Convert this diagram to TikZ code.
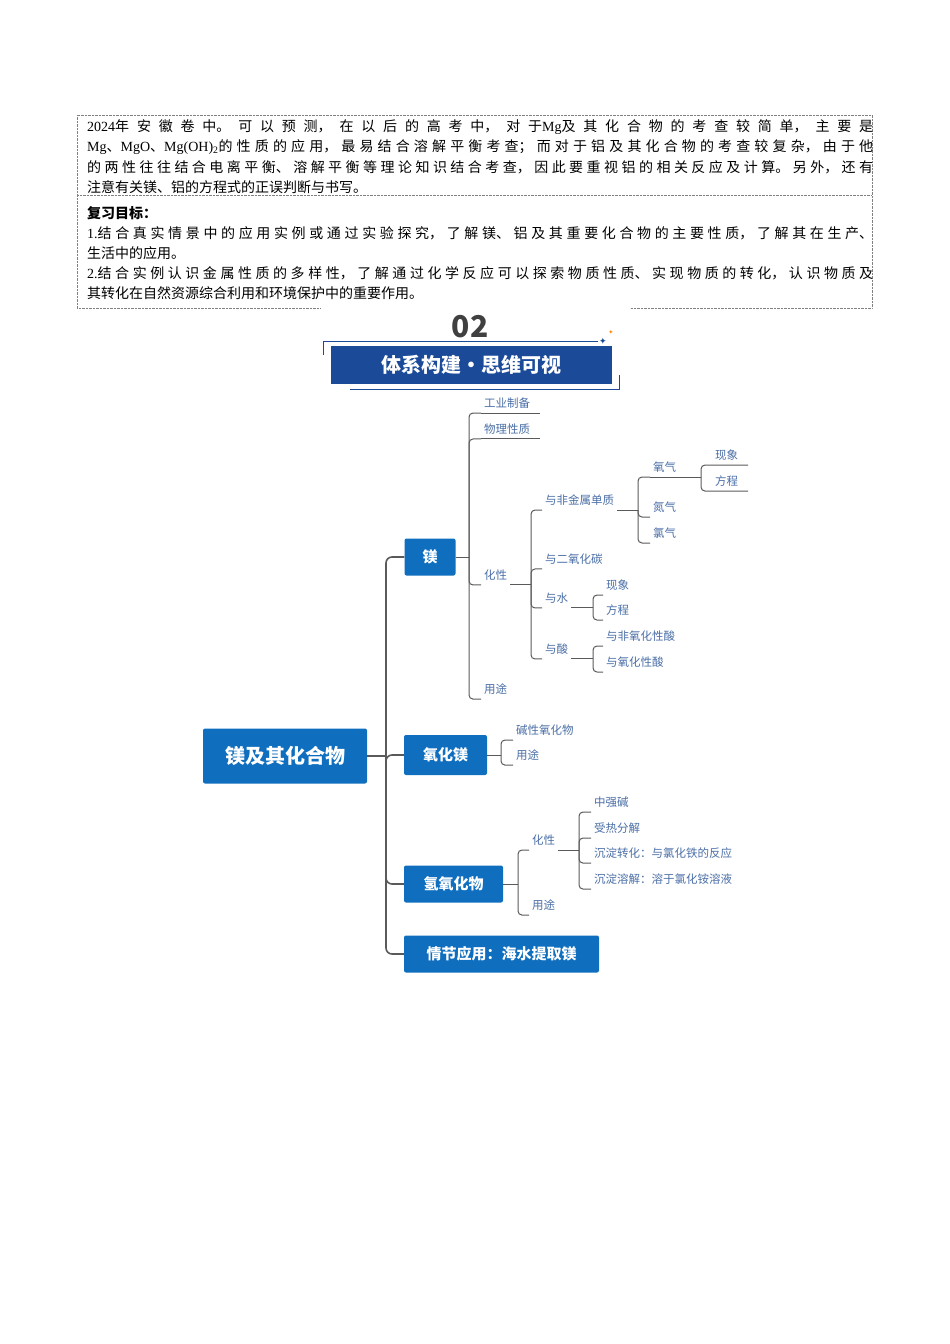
\documentclass[tikz,border=0pt]{standalone}
\usepackage{fontspec}
\setmainfont{Noto Sans CJK SC}
\newfontfamily\latserif{Liberation Serif}
\newfontfamily\symfont{DejaVu Sans}
\usetikzlibrary{positioning,calc}
\XeTeXlinebreaklocale "zh"
\XeTeXlinebreakskip=0pt plus 6pt
\definecolor{boxblue}{HTML}{0F6EBE}
\definecolor{bandblue}{HTML}{1B4A99}
\definecolor{leafblue}{HTML}{4A6EA6}
\definecolor{linegray}{HTML}{5A5A5A}
\tikzset{
  topic/.style={fill=boxblue,text=white,font=\fontsize{15}{18}\selectfont\bfseries,rounded corners=2pt,inner sep=0pt},
  leaf/.style={text=leafblue,font=\fontsize{11.5}{13}\selectfont,anchor=west,inner xsep=3pt,inner ysep=4.5pt},
  conn/.style={draw=linegray,line width=1pt,rounded corners=4pt},
  trunk/.style={draw=linegray,line width=1.6pt,rounded corners=6pt},
  intro/.style={anchor=west,inner sep=0pt,font=\fontsize{14}{16}\selectfont},
}
\newcommand{\fullline}[1]{\parbox{786pt}{\parfillskip=0pt\relax #1}}
\begin{document}
\begin{tikzpicture}[x=1pt,y=-1pt]
\useasboundingbox (0,0) rectangle (950,1344);
% header box
\draw[gray,densely dotted] (320,308) -- (77,308) -- (77,115) -- (872,115) -- (872,308) -- (630,308);
\draw[gray,densely dotted] (77,195) -- (872,195);
\node[intro] (l1) at (87,127) {\fullline{{\latserif 2024}年安徽卷中。可以预测，在以后的高考中，对于{\latserif Mg}及其化合物的考查较简单，主要是}};
\node[intro] (l2) at (87,147) {\fullline{{\latserif Mg}、{\latserif MgO}、{\latserif Mg(OH)\textsubscript{2}}的性质的应用，最易结合溶解平衡考查；而对于铝及其化合物的考查较复杂，由于他}};
\node[intro] (l3) at (87,167) {\fullline{的两性往往结合电离平衡、溶解平衡等理论知识结合考查，因此要重视铝的相关反应及计算。另外，还有}};
\node[intro] (l4) at (87,187) {注意有关镁、铝的方程式的正误判断与书写。};
\node[intro,font=\fontsize{14}{16}\selectfont\bfseries] (l5) at (87,213) {复习目标：};
\node[intro] (l6) at (87,233) {\fullline{{\latserif 1.}结合真实情景中的应用实例或通过实验探究，了解镁、铝及其重要化合物的主要性质，了解其在生产、}};
\node[intro] (l7) at (87,253) {生活中的应用。};
\node[intro] (l8) at (87,273) {\fullline{{\latserif 2.}结合实例认识金属性质的多样性，了解通过化学反应可以探索物质性质、实现物质的转化，认识物质及}};
\node[intro] (l9) at (87,293) {其转化在自然资源综合利用和环境保护中的重要作用。};
% title band
\node[font=\fontsize{30}{32}\selectfont\bfseries,text=darkgray] (num) at (470,327) {02};
\draw[bandblue,line width=0.8pt] (323,355) -- (323,341) -- (350,341);
\draw[bandblue,line width=0.5pt] (350,341) -- (598,341);
\draw[bandblue,line width=0.8pt] (619,375) -- (619,389) -- (595,389);
\draw[bandblue,line width=0.5pt] (350,389) -- (595,389);
\node[fill=bandblue,minimum width=281pt,minimum height=38pt,inner sep=0pt,text=white,font=\fontsize{20}{22}\selectfont\bfseries] (band) at (471.5,365) {体系构建·思维可视};
\node[text=bandblue,font=\symfont\fontsize{9}{9}\selectfont,inner sep=0pt] (star1) at (603,341) {✦};
\node[text=orange,font=\symfont\fontsize{6}{6}\selectfont,inner sep=0pt] (star2) at (611,332) {✦};
% main topics
\node[topic,minimum width=164pt,minimum height=55pt,font=\fontsize{20}{22}\selectfont\bfseries] (root) at (285,756) {镁及其化合物};
\node[topic,minimum width=51pt,minimum height=37pt] (mg) at (430,557) {镁};
\node[topic,minimum width=83pt,minimum height=40pt] (mgo) at (445.5,755) {氧化镁};
\node[topic,minimum width=99pt,minimum height=37pt] (hyd) at (453.5,884) {氢氧化物};
\node[topic,minimum width=195pt,minimum height=37pt] (app) at (501.5,954) {情节应用：海水提取镁};
\draw[trunk] (root.east) -- (386,756) coordinate (rj);
\foreach \t in {mg,mgo,hyd,app} \draw[trunk] (rj) |- (\t.west);
% magnesium
\node[leaf] (gyzb) at (481,403) {工业制备};
\node[leaf] (wlxz) at (481,429) {物理性质};
\node[leaf] (hx) at (481,575) {化性};
\node[leaf] (yt) at (481,689) {用途};
\draw[conn] (mg.east) -- (469,557) coordinate (mgj);
\foreach \t in {gyzb,wlxz,hx,yt} \draw[conn] (mgj) |- (\t.south west);
\draw[conn] (gyzb.south west) -- (540,0 |- gyzb.south west);
\draw[conn] (wlxz.south west) -- (540,0 |- wlxz.south west);
\node[leaf] (fjs) at (542,500) {与非金属单质};
\node[leaf] (eyht) at (542,559) {与二氧化碳};
\node[leaf] (ys) at (542,598) {与水};
\node[leaf] (ysuan) at (542,649) {与酸};
\draw[conn] (hx.south east) -- (hx.south east -| 531,0) coordinate (hxj);
\foreach \t in {fjs,eyht,ys,ysuan} \draw[conn] (hxj) |- (\t.south west);
\node[leaf] (yq) at (650,467) {氧气};
\node[leaf] (dq) at (650,507) {氮气};
\node[leaf] (lq) at (650,533) {氯气};
\draw[conn] (fjs.south east) -- (fjs.south east -| 638,0) coordinate (fjsj);
\foreach \t in {yq,dq,lq} \draw[conn] (fjsj) |- (\t.south west);
\node[leaf] (xx1) at (712,455) {现象};
\node[leaf] (fc1) at (712,481) {方程};
\draw[conn] (yq.south west) -- (701,0 |- yq.south west) coordinate (yqj);
\foreach \t in {xx1,fc1} \draw[conn] (yqj) |- (748,0 |- \t.south west);
\node[leaf] (xx2) at (603,585) {现象};
\node[leaf] (fc2) at (603,610) {方程};
\draw[conn] (ys.south east) -- (ys.south east -| 593,0) coordinate (ysj);
\foreach \t in {xx2,fc2} \draw[conn] (ysj) |- (\t.south west);
\node[leaf] (ffy) at (603,636) {与非氧化性酸};
\node[leaf] (fy) at (603,662) {与氧化性酸};
\draw[conn] (ysuan.south east) -- (ysuan.south east -| 593,0) coordinate (ysuanj);
\foreach \t in {ffy,fy} \draw[conn] (ysuanj) |- (\t.south west);
% magnesium oxide
\node[leaf] (jx) at (513,730) {碱性氧化物};
\node[leaf] (yt2) at (513,755) {用途};
\draw[conn] (mgo.east) -- (501,755) coordinate (mgoj);
\foreach \t in {jx,yt2} \draw[conn] (mgoj) |- (\t.south west);
% hydroxide
\node[leaf] (hx2) at (529,840) {化性};
\node[leaf] (yt3) at (529,905) {用途};
\draw[conn] (hyd.east) -- (518,884) coordinate (hydj);
\foreach \t in {hx2,yt3} \draw[conn] (hydj) |- (\t.south west);
\node[leaf] (zqj) at (591,802) {中强碱};
\node[leaf] (srfj) at (591,828) {受热分解};
\node[leaf] (cdzh) at (591,853) {沉淀转化：与氯化铁的反应};
\node[leaf] (cdrj) at (591,879) {沉淀溶解：溶于氯化铵溶液};
\draw[conn] (hx2.south east) -- (hx2.south east -| 579,0) coordinate (hx2j);
\foreach \t in {zqj,srfj,cdzh,cdrj} \draw[conn] (hx2j) |- (\t.south west);
\end{tikzpicture}
\end{document}
